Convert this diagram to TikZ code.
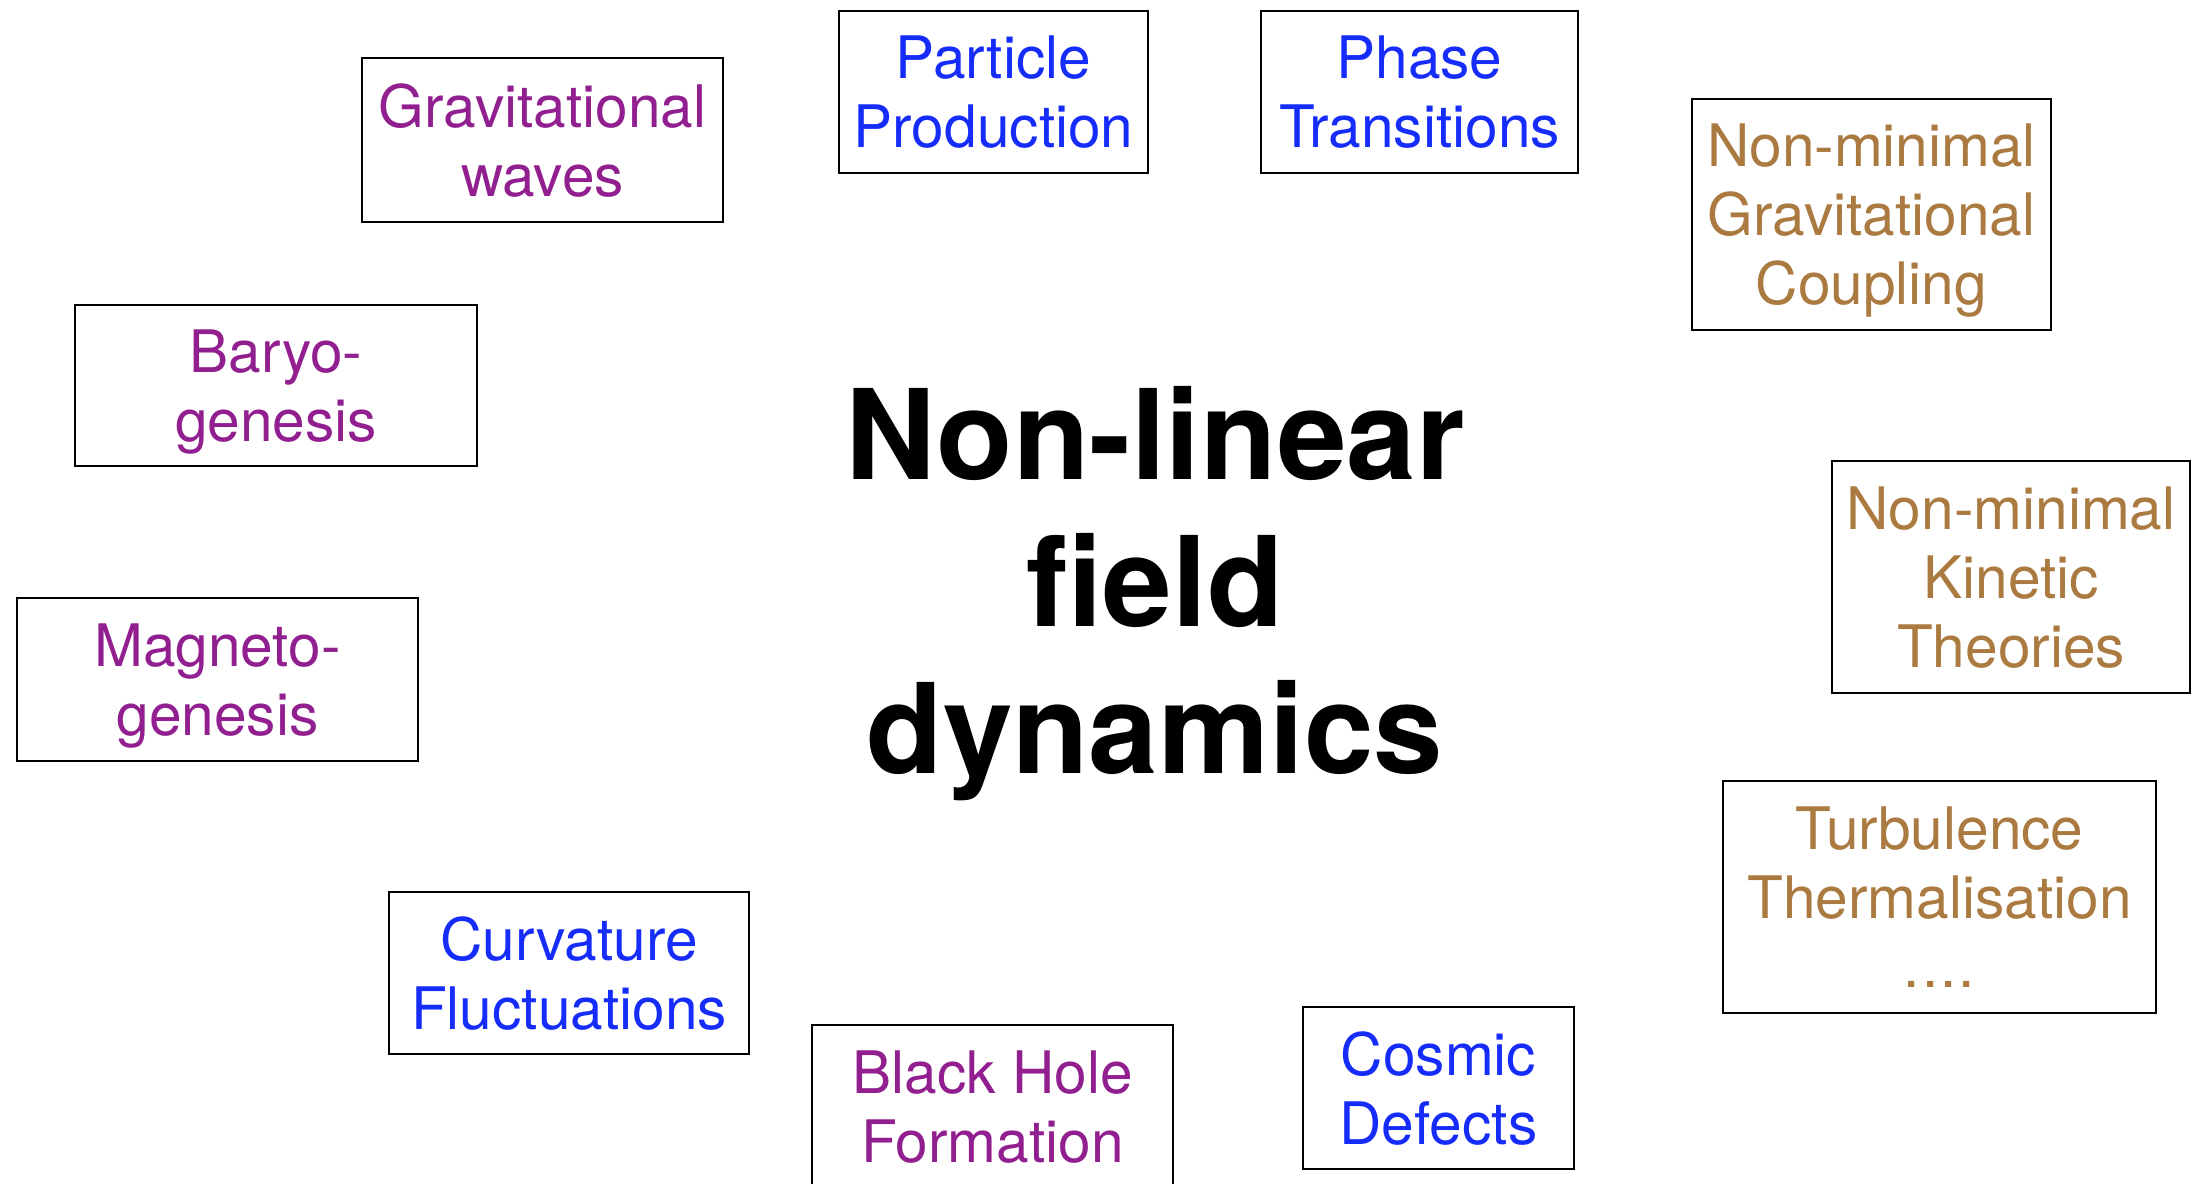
\documentclass[tikz,border=0pt]{standalone}
\usepackage{fontspec}
\setmainfont{TeX Gyre Heros}
\definecolor{cpurple}{RGB}{146,31,143}
\definecolor{cblue}{RGB}{22,44,250}
\definecolor{cbrown}{RGB}{170,122,64}
\newcommand{\boxfont}{\fontsize{29.3pt}{34.5pt}\selectfont}
\newcommand{\bigfont}{\fontsize{62.5pt}{73.5pt}\selectfont\bfseries}
\tikzset{
  tbox/.style={draw=black, line width=1.4pt, inner sep=0pt, align=center, text depth=0pt, font=\boxfont},
  pbox/.style={tbox, text=cpurple},
  bbox/.style={tbox, text=cblue},
  obox/.style={tbox, text=cbrown},
}
\begin{document}
\begin{tikzpicture}[x=0.5pt,y=-0.5pt]
\clip (0,0) rectangle (2192,1184);
\fill[white] (0,0) rectangle (2192,1184);
\node[pbox, minimum width=180.5pt, minimum height=82pt] (gw) at (542.5,140) {Gravitational\\waves};
\node[bbox, minimum width=154.5pt, minimum height=81pt] (pp) at (993.5,92) {Particle\\Production};
\node[bbox, minimum width=158.5pt, minimum height=81pt] (pt) at (1419.5,92) {Phase\\Transitions};
\node[obox, minimum width=179.5pt, minimum height=115.5pt] (nmgc) at (1871.5,214.5) {Non-minimal\\Gravitational\\Coupling};
\node[pbox, minimum width=201pt, minimum height=80.5pt] (bg) at (276,385.5) {Baryo-\\genesis};
\node[pbox, minimum width=200.5pt, minimum height=81.5pt] (mg) at (217.5,679.5) {Magneto-\\genesis};
\node[obox, minimum width=179pt, minimum height=116pt] (nmkt) at (2011,577) {Non-minimal\\Kinetic\\Theories};
\node[obox, minimum width=216.5pt, minimum height=116pt] (turb) at (1939.5,897) {Turbulence\\Thermalisation\\.\kern1pt.\kern1pt.\kern1pt.};
\node[bbox, minimum width=180pt, minimum height=81pt] (cf) at (569,973) {Curvature\\Fluctuations};
\node[pbox, minimum width=180.5pt, minimum height=82pt] (bh) at (992.5,1107) {Black Hole\\Formation};
\node[bbox, minimum width=135.5pt, minimum height=81pt] (cd) at (1438.5,1088) {Cosmic\\Defects};
\node[inner sep=0pt, align=center, text depth=0pt, font=\bigfont] (center) at (1155,580) {Non-linear\\field\\dynamics};
\end{tikzpicture}
\end{document}
